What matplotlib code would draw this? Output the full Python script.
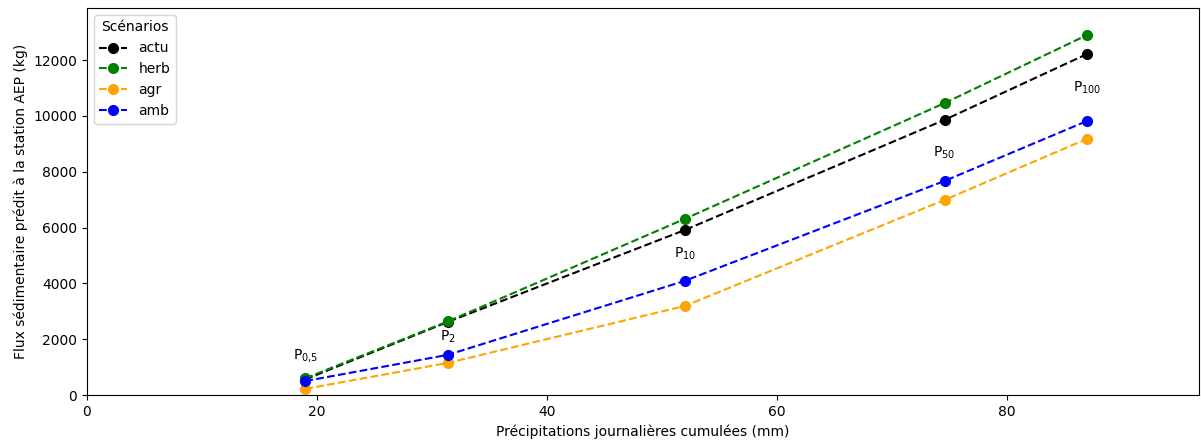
import numpy as np
import matplotlib.pyplot as plt

# précipitations journalières cumulées (mm) pour chaque période de retour
precip = [19.0, 31.4, 52.0, 74.6, 87.0]
periodes = [r'P$_{0{,}5}$', r'P$_{2}$', r'P$_{10}$', r'P$_{50}$', r'P$_{100}$']
label_y = [1400, 2080, 5050, 8670, 11000]

# flux sédimentaire prédit (kg) par scénario
actu = [560, 2620, 5910, 9860, 12220]
herb = [600, 2640, 6310, 10460, 12900]
agr = [220, 1150, 3190, 6990, 9180]
amb = [500, 1440, 4090, 7670, 9820]

scenarios = ['actu', 'herb', 'agr', 'amb']
series = [actu, herb, agr, amb]
couleurs = ['black', 'green', 'orange', 'blue']

plt.rcParams['mathtext.default'] = 'regular'
fig = plt.figure(figsize=(12.01, 4.41), dpi=100)
ax = fig.add_axes([0.0724, 0.1043, 0.9256, 0.8777])

for nom, y, c in zip(scenarios, series, couleurs):
    ax.plot(precip, y, '--o', color=c, label=nom, markersize=7)

for x, y, p in zip(precip, label_y, periodes):
    ax.text(x, y, p, ha='center', va='center', fontsize=10)

ax.set_xlim(0, 96.7)
ax.set_ylim(0, 13870)
ax.set_xticks([0, 20, 40, 60, 80])
ax.set_yticks(np.arange(0, 12001, 2000))
ax.set_xlabel('Précipitations journalières cumulées (mm)')
ax.set_ylabel('Flux sédimentaire prédit à la station AEP (kg)')
ax.legend(title='Scénarios', loc='upper left')

fig.savefig('out.png', dpi=100)
